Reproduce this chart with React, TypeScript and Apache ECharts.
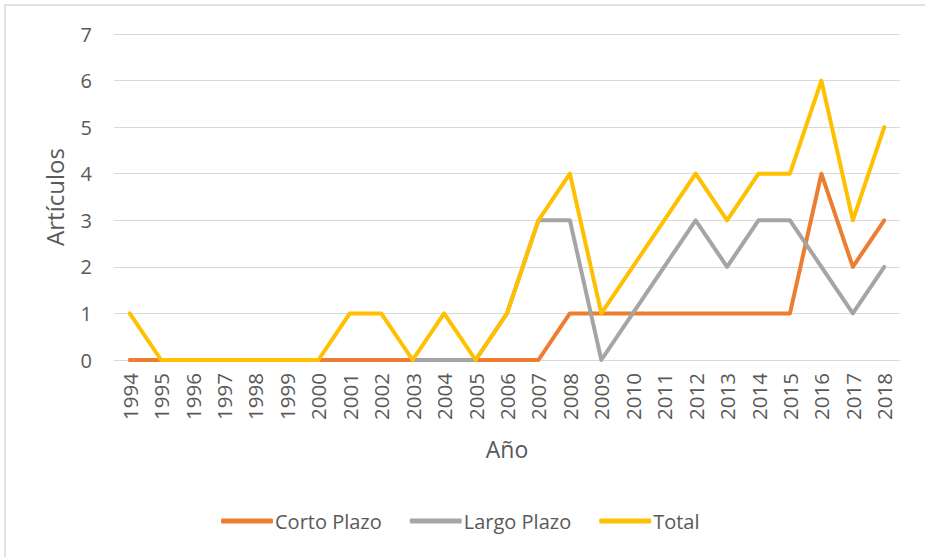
import React, { useEffect, useRef } from "react";
import * as echarts from "echarts";

const years = ["1994","1995","1996","1997","1998","1999","2000","2001","2002","2003","2004","2005","2006","2007","2008","2009","2010","2011","2012","2013","2014","2015","2016","2017","2018"];
const cortoPlazo = [0,0,0,0,0,0,0,0,0,0,0,0,0,0,1,1,1,1,1,1,1,1,4,2,3];
const largoPlazo: (number | null)[] = [null,null,null,null,null,null,null,null,null,0,0,0,1,3,3,0,1,2,3,2,3,3,2,1,2];
const total = [1,0,0,0,0,0,0,1,1,0,1,0,1,3,4,1,2,3,4,3,4,4,6,3,5];
const yTicks = { min: 0, max: 7, interval: 1 };

const FONT = "'Open Sans', sans-serif";
const TEXT = "#595959";

export default function App() {
  const ref = useRef<HTMLDivElement>(null);
  useEffect(() => {
    if (!ref.current) return;
    const chart = echarts.init(ref.current, null, { renderer: "svg" });
    const mk = (name: string, data: (number | null)[], color: string) => ({
      name,
      type: "line",
      data,
      symbol: "none",
      connectNulls: false,
      lineStyle: { color, width: 4, cap: "round", join: "round" },
      itemStyle: { color },
    });
    chart.setOption({
      animation: false,
      backgroundColor: "#fff",
      textStyle: { fontFamily: FONT },
      graphic: [
        {
          type: "rect",
          shape: { x: 5, y: 5, width: 1000, height: 1000 },
          style: { fill: "none", stroke: "#d9d9d9", lineWidth: 1.5 },
          silent: true,
        },
      ],
      grid: { left: 114, right: 25, top: 34, bottom: 197, containLabel: false },
      xAxis: {
        type: "category",
        data: years,
        boundaryGap: true,
        name: "Año",
        nameLocation: "middle",
        nameGap: 77,
        nameTextStyle: { color: TEXT, fontSize: 23, fontFamily: FONT },
        axisLine: { show: true, lineStyle: { color: "#d9d9d9", width: 1 } },
        axisTick: { show: false },
        axisLabel: { rotate: 90, color: TEXT, fontSize: 20.5, fontFamily: FONT, margin: 13, interval: 0 },
        splitLine: { show: false },
      },
      yAxis: {
        type: "value",
        min: yTicks.min,
        max: yTicks.max,
        interval: yTicks.interval,
        name: "Artículos",
        nameLocation: "middle",
        nameGap: 48,
        nameTextStyle: { color: TEXT, fontSize: 24, fontFamily: FONT },
        axisLine: { show: false },
        axisTick: { show: false },
        axisLabel: { color: TEXT, fontSize: 20, fontFamily: FONT, margin: 22 },
        splitLine: { show: true, lineStyle: { color: "#d9d9d9", width: 1 } },
      },
      legend: {
        left: 216,
        top: 506,
        icon: "roundRect",
        itemWidth: 52,
        itemHeight: 5,
        itemGap: 28,
        textStyle: { color: TEXT, fontSize: 20, fontFamily: FONT, padding: [0, 0, 0, -3] },
        data: ["Corto Plazo", "Largo Plazo", "Total"],
      },
      series: [
        mk("Corto Plazo", cortoPlazo, "#ED7D31"),
        mk("Largo Plazo", largoPlazo, "#A5A5A5"),
        mk("Total", total, "#FFC000"),
      ],
    });
    return () => chart.dispose();
  }, []);
  return (
    <div
      ref={ref}
      style={{ position: "fixed", left: 0, top: 0, width: 925, height: 557 }}
    />
  );
}
